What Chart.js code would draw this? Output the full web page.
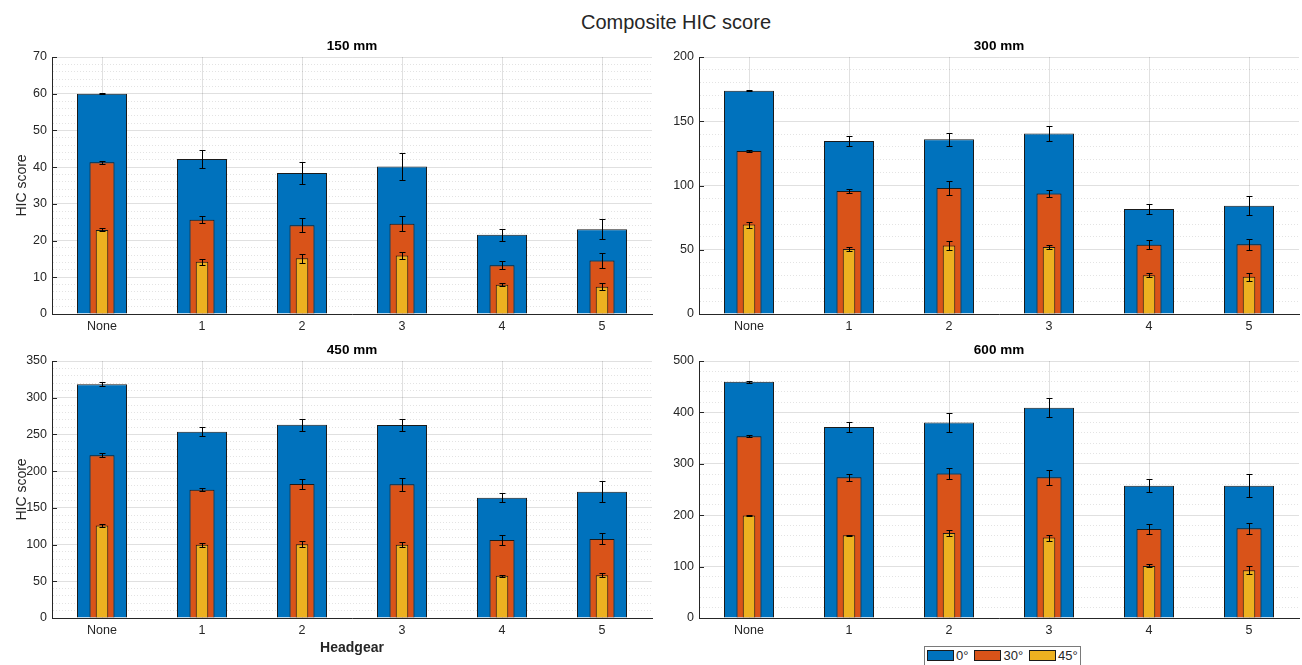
<!DOCTYPE html>
<html>
<head>
<meta charset="utf-8">
<script src="https://cdn.jsdelivr.net/npm/chart.js@4"></script>
<style>
  html, body { margin: 0; padding: 0; background: #fff; width: 1302px; height: 665px; overflow: hidden;
               font-family: "Liberation Sans", Arial, sans-serif; }
  canvas { position: absolute; }
  #suptitle { position: absolute; left: 476px; width: 400px; top: 10px; line-height: 24px; text-align: center;
              font-size: 20px; color: #262626; }
  #legend { position: absolute; left: 924px; top: 646px; width: 157px; height: 24px; border: 1px solid #7a7a7a;
            background: #fff; display: flex; align-items: flex-start; padding-top: 2px; box-sizing: border-box;
            font-size: 13px; color: #262626; z-index: 5; }
  #legend .item { display: flex; align-items: center; margin-left: 2px; margin-right: 4px; height: 13px; }
  #legend .sw { width: 27px; height: 11px; box-sizing: border-box; border: 1px solid #1a1a1a; margin-right: 2px; }
</style>
</head>
<body>
<div id="suptitle">Composite HIC score</div>
<canvas id="p150" width="656" height="324" style="left:0px;top:34px"></canvas>
<canvas id="p300" width="656" height="324" style="left:647px;top:34px"></canvas>
<canvas id="p450" width="656" height="324" style="left:0px;top:338px"></canvas>
<canvas id="p600" width="656" height="324" style="left:647px;top:338px"></canvas>
<div id="legend"></div>
<script>
// Headgear conditions and impact angles
const headgear = ['None', '1', '2', '3', '4', '5'];
const angles = ['0°', '30°', '45°'];

// 150 mm drop height: mean HIC and error half-widths per angle
const hic150_0  = [60.0, 42.2, 38.4, 40.2, 21.6, 23.1];
const err150_0  = [0.15, 2.5, 3.0, 3.7, 1.6, 2.8];
const hic150_30 = [41.3, 25.7, 24.2, 24.6, 13.3, 14.6];
const err150_30 = [0.5, 0.9, 2.0, 2.0, 1.0, 2.0];
const hic150_45 = [22.9, 14.2, 15.2, 15.9, 8.0, 7.4];
const err150_45 = [0.4, 0.8, 1.2, 1.0, 0.35, 0.95];

// 300 mm drop height
const hic300_0  = [173.8, 134.6, 136.0, 140.5, 81.8, 84.3];
const err300_0  = [0.5, 3.8, 5.0, 6.0, 3.8, 7.5];
const hic300_30 = [126.8, 95.7, 98.0, 93.8, 53.9, 54.3];
const err300_30 = [0.6, 1.4, 5.7, 2.6, 3.4, 4.4];
const hic300_45 = [69.6, 50.6, 53.3, 52.2, 30.1, 29.0];
const err300_45 = [2.3, 1.2, 3.3, 1.7, 1.5, 3.2];

// 450 mm drop height
const hic450_0  = [318.5, 253.6, 263.2, 262.9, 163.8, 172.1];
const err450_0  = [3.2, 6.1, 8.4, 8.4, 6.5, 13.8];
const hic450_30 = [221.8, 174.7, 182.6, 182.3, 106.2, 107.6];
const err450_30 = [2.5, 2.3, 7.0, 9.0, 6.6, 7.5];
const hic450_45 = [126.0, 99.6, 100.6, 99.9, 57.4, 58.2];
const err450_45 = [1.5, 2.5, 4.3, 3.0, 1.6, 2.7];

// 600 mm drop height
const hic600_0  = [459.8, 371.5, 380.2, 409.2, 257.5, 257.5];
const err600_0  = [2.0, 9.0, 18.5, 18.0, 13.0, 22.4];
const hic600_30 = [353.5, 273.8, 281.2, 273.6, 173.3, 174.5];
const err600_30 = [2.2, 6.8, 10.7, 14.5, 9.7, 10.7];
const hic600_45 = [199.2, 160.8, 165.6, 156.4, 101.4, 92.7];
const err600_45 = [0.8, 1.0, 6.5, 5.8, 2.9, 7.7];

// Y-axis ranges and tick spacing: [max, major step, minor step]
const yAxis150 = [70, 10, 2];
const yAxis300 = [200, 50, 10];
const yAxis450 = [350, 50, 10];
const yAxis600 = [500, 100, 20];

const barColors = ['#0072BD', '#D95319', '#EDB120'];
const barWidths = [0.5, 0.25, 0.125];
const FONT = '"Liberation Sans", Arial, sans-serif';
const TEXT = '#262626';

function isMajor(value, step) {
  const r = value / step;
  return Math.abs(r - Math.round(r)) < 1e-6;
}

// Whiskers drawn on top of every bar, using the chart's own y scale
const errorBars = {
  id: 'errorBars',
  afterDatasetsDraw(chart) {
    const { ctx } = chart;
    const yScale = chart.scales.y;
    ctx.save();
    ctx.strokeStyle = '#000';
    ctx.lineWidth = 1;
    chart.data.datasets.forEach((ds, di) => {
      const meta = chart.getDatasetMeta(di);
      meta.data.forEach((bar, j) => {
        const v = ds.data[j], e = ds.errors[j];
        const x = Math.round(bar.x) + 0.5;
        const yHi = Math.round(yScale.getPixelForValue(v + e)) + 0.5;
        const yLo = Math.round(yScale.getPixelForValue(v - e)) + 0.5;
        ctx.beginPath();
        ctx.moveTo(x, yHi); ctx.lineTo(x, yLo);
        ctx.moveTo(x - 3, yHi); ctx.lineTo(x + 3, yHi);
        ctx.moveTo(x - 3, yLo); ctx.lineTo(x + 3, yLo);
        ctx.stroke();
      });
    });
    ctx.restore();
  }
};

// Short inward tick marks on the value axis at each labelled tick
const innerTicks = {
  id: 'innerTicks',
  afterDraw(chart) {
    const { ctx, chartArea } = chart;
    const yScale = chart.scales.y;
    const major = chart.options.scales.y.ticks.majorStep;
    ctx.save();
    ctx.strokeStyle = TEXT;
    ctx.lineWidth = 1;
    ctx.beginPath();
    yScale.ticks.forEach(t => {
      if (!isMajor(t.value, major)) return;
      const y = Math.round(yScale.getPixelForValue(t.value)) + 0.5;
      ctx.moveTo(chartArea.left, y);
      ctx.lineTo(chartArea.left + 5, y);
    });
    ctx.stroke();
    ctx.restore();
  }
};

function drawPanel(id, title, series, errors, yAxis, showYTitle, showXTitle) {
  const [yMax, yMajor, yMinor] = yAxis;
  const datasets = series.map((vals, i) => ({
    label: angles[i],
    data: vals,
    errors: errors[i],
    backgroundColor: barColors[i],
    borderColor: '#1a1a1a',
    borderWidth: 1,
    borderSkipped: 'start',
    barPercentage: barWidths[i],
    categoryPercentage: 1,
    grouped: false,
    order: 3 - i
  }));

  new Chart(document.getElementById(id), {
    type: 'bar',
    data: { labels: headgear, datasets },
    plugins: [errorBars, innerTicks],
    options: {
      responsive: false,
      animation: false,
      layout: { padding: { top: 0, left: 0, right: 4, bottom: 0 } },
      plugins: {
        legend: { display: false },
        tooltip: { enabled: false },
        title: {
          display: true,
          text: title,
          fullSize: false,
          color: '#000',
          font: { family: FONT, size: 13.5, weight: 'bold', lineHeight: '16px' },
          padding: { top: 4, bottom: 3 }
        }
      },
      scales: {
        x: {
          offset: true,
          afterFit: s => { s.height = 44; },
          grid: { offset: false, drawTicks: false, color: 'rgba(0,0,0,0.12)', lineWidth: 1 },
          border: { display: true, color: TEXT, width: 1 },
          ticks: { color: TEXT, padding: 5, font: { family: FONT, size: 12.5 }, maxRotation: 0 },
          title: {
            display: showXTitle,
            text: 'Headgear',
            color: TEXT,
            font: { family: FONT, size: 14, weight: 'bold', lineHeight: '16px' },
            padding: { top: 0, bottom: 6 }
          }
        },
        y: {
          min: 0,
          max: yMax,
          afterFit: s => { s.width = 52; },
          grid: {
            drawTicks: false,
            lineWidth: 1,
            color: c => (c.tick && !isMajor(c.tick.value, yMajor)) ? 'rgba(0,0,0,0.11)' : 'rgba(0,0,0,0.12)'
          },
          border: {
            display: true, color: TEXT, width: 1,
            dash: c => (c.tick && !isMajor(c.tick.value, yMajor)) ? [1, 2] : []
          },
          ticks: {
            stepSize: yMinor,
            majorStep: yMajor,
            autoSkip: false,
            padding: 5,
            color: TEXT,
            font: { family: FONT, size: 12.5 },
            callback: v => isMajor(v, yMajor) ? String(v) : ''
          },
          title: {
            display: showYTitle,
            text: 'HIC score',
            color: TEXT,
            font: { family: FONT, size: 14, lineHeight: '16px' },
            padding: { top: 14, bottom: 0 }
          }
        }
      }
    }
  });
}

drawPanel('p150', '150 mm', [hic150_0, hic150_30, hic150_45], [err150_0, err150_30, err150_45], yAxis150, true, false);
drawPanel('p300', '300 mm', [hic300_0, hic300_30, hic300_45], [err300_0, err300_30, err300_45], yAxis300, false, false);
drawPanel('p450', '450 mm', [hic450_0, hic450_30, hic450_45], [err450_0, err450_30, err450_45], yAxis450, true, true);
drawPanel('p600', '600 mm', [hic600_0, hic600_30, hic600_45], [err600_0, err600_30, err600_45], yAxis600, false, false);

// Shared legend for the impact angles
const legend = document.getElementById('legend');
angles.forEach((a, i) => {
  const item = document.createElement('div');
  item.className = 'item';
  const sw = document.createElement('div');
  sw.className = 'sw';
  sw.style.background = barColors[i];
  const tx = document.createElement('span');
  tx.textContent = a;
  item.appendChild(sw);
  item.appendChild(tx);
  legend.appendChild(item);
});
</script>
</body>
</html>
